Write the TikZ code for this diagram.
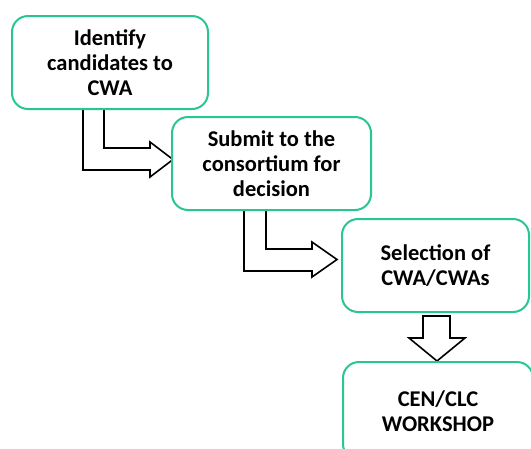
\documentclass[tikz,border=0pt]{standalone}
\usepackage{fontspec}
\setmainfont{Carlito}
\definecolor{boxgreen}{RGB}{40,198,148}
\begin{document}
\begin{tikzpicture}[x=1pt,y=-1pt,
  stepbox/.style={draw=boxgreen, line width=2pt, rounded corners=16pt, fill=white,
    align=center, inner sep=0pt,
    font=\fontsize{22.5}{25}\selectfont\bfseries},
  blockarrow/.style={draw=black, line width=1.6pt, fill=white, line join=miter}]
\useasboundingbox (0,0) rectangle (531,448);
\clip (0,0) rectangle (531,448);
% bent block arrows between the steps
\draw[blockarrow] (83,104) -- (104,104) -- (104,148) -- (150,148) -- (150,142)
  -- (173,159.5) -- (150,177) -- (150,170) -- (83,170) -- cycle;
\draw[blockarrow] (244,205) -- (266,205) -- (266,249) -- (312,249) -- (312,242)
  -- (337,259.5) -- (312,277) -- (312,271) -- (244,271) -- cycle;
\draw[blockarrow] (423,316) -- (450,316) -- (450,338) -- (465,338)
  -- (437,361) -- (409,338) -- (423,338) -- cycle;
% the steps
\node[stepbox, minimum width=196pt, minimum height=93pt] (b1) at (110,62.5)
  {Identify\\candidates to\\CWA};
\node[stepbox, minimum width=199pt, minimum height=93pt] (b2) at (271.5,163.5)
  {Submit to the\\consortium for\\decision};
\node[stepbox, minimum width=187pt, minimum height=93pt] (b3) at (435.5,265.5)
  {Selection of\\CWA/CWAs};
\node[stepbox, minimum width=190pt, minimum height=98pt] (b4) at (438,411)
  {CEN/CLC\\WORKSHOP};
\end{tikzpicture}
\end{document}
